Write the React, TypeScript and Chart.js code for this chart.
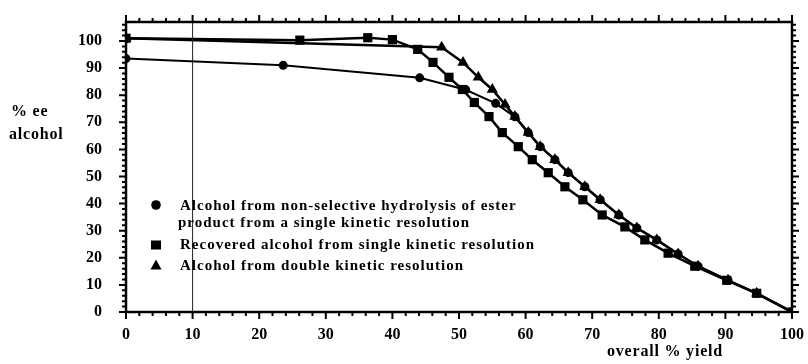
import React, { useEffect, useRef } from "react";
import { Chart, registerables } from "chart.js";

Chart.register(...registerables);

// ---- data ----
const circleX = [0, 23.6, 44.1, 51, 55.5, 58.4, 60.4, 62.2, 64.4, 66.4, 68.9, 71.2, 74.0, 76.7, 79.7, 82.9, 85.9, 90.4, 94.7, 100];
const circleY = [93.5, 91, 86.4, 82, 77, 72, 66.2, 61, 56.2, 51.4, 46.2, 41.4, 35.8, 31, 26.6, 21.4, 16.9, 11.7, 6.9, 0];

const squareX = [0, 26.1, 36.3, 40, 43.8, 46.1, 48.5, 50.5, 52.3, 54.5, 56.5, 58.9, 61.0, 63.4, 65.9, 68.6, 71.5, 74.9, 77.9, 81.4, 85.4, 90.2, 94.7, 100];
const squareY = [101, 100.3, 101.2, 100.5, 96.9, 92.1, 86.6, 82.1, 77.3, 72.1, 66.2, 61.0, 56.2, 51.4, 46.2, 41.4, 35.8, 31.4, 26.6, 21.7, 16.9, 11.7, 6.9, 0];

const triangleX = [0, 47.4, 50.6, 52.9, 55.0, 56.9, 58.4, 60.4, 62.2, 64.4, 66.4, 68.9, 71.2, 74.0, 76.7, 79.7, 82.9, 85.9, 90.4, 94.7, 100];
const triangleY = [101, 97.7, 92.1, 86.6, 82.1, 76.6, 72.1, 66.2, 61.0, 56.2, 51.4, 46.2, 41.4, 35.8, 31.0, 26.6, 21.4, 16.9, 11.7, 6.9, 0];

const refLineX = [10, 10];
const refLineY = [0, 107];

const xTicks = [0, 10, 20, 30, 40, 50, 60, 70, 80, 90, 100];
const yTicks = [0, 10, 20, 30, 40, 50, 60, 70, 80, 90, 100];

const seriesLabels = [
  ["Alcohol from non-selective hydrolysis of ester", "product from a single kinetic resolution"],
  ["Recovered alcohol from single kinetic resolution"],
  ["Alcohol from double kinetic resolution"],
];
const yTitle = ["% ee", "alcohol"];
const xTitle = "overall % yield";

const X_MIN = 0, X_MAX = 100, Y_MIN = 0, Y_MAX = 107;

const FONT = '"Liberation Serif", "Times New Roman", serif';

function pts(xs: number[], ys: number[]) {
  return xs.map((x, i) => ({ x, y: ys[i] }));
}

const framePlugin = {
  id: "frame",
  afterDraw(chart: any) {
    const { ctx, chartArea: a, scales } = chart;
    const xs = scales.x, ys = scales.y;
    ctx.save();
    ctx.strokeStyle = "#000";
    ctx.fillStyle = "#000";
    // frame
    ctx.lineWidth = 2.5;
    ctx.strokeRect(a.left, a.top, a.right - a.left, a.bottom - a.top);
    // ticks
    ctx.lineWidth = 2;
    for (let v = X_MIN; v <= X_MAX + 1e-6; v += 2) {
      const px = xs.getPixelForValue(v);
      const len = v % 10 === 0 ? 7 : 4;
      ctx.beginPath();
      ctx.moveTo(px, a.bottom);
      ctx.lineTo(px, a.bottom + len);
      ctx.moveTo(px, a.top);
      ctx.lineTo(px, a.top - len);
      ctx.stroke();
    }
    for (let v = Y_MIN; v <= Y_MAX; v += 2) {
      const py = ys.getPixelForValue(v);
      const len = v % 10 === 0 ? 7 : 4;
      ctx.beginPath();
      ctx.moveTo(a.left, py);
      ctx.lineTo(a.left - len, py);
      ctx.moveTo(a.right, py);
      ctx.lineTo(a.right + len, py);
      ctx.stroke();
    }
    // axis titles
    ctx.font = `bold 16px ${FONT}`;
    (ctx as any).letterSpacing = "0.8px";
    ctx.textBaseline = "middle";
    ctx.textAlign = "left";
    ctx.fillText(yTitle[0], 11, 112);
    ctx.fillText(yTitle[1], 9, 135);
    ctx.fillText(xTitle, 607, 352);

    // legend
    (ctx as any).letterSpacing = "1px";
    ctx.font = `bold 15px ${FONT}`;
    const lx = 156;
    const tx = 180;
    ctx.beginPath();
    ctx.arc(lx, 205, 4.8, 0, Math.PI * 2);
    ctx.fill();
    ctx.fillText(seriesLabels[0][0], tx, 206);
    ctx.fillText(seriesLabels[0][1], tx - 2, 223);
    ctx.fillRect(lx - 5, 245 - 4.5, 10, 9);
    ctx.fillText(seriesLabels[1][0], tx, 245);
    ctx.beginPath();
    ctx.moveTo(lx, 259.5);
    ctx.lineTo(lx + 5.5, 269.5);
    ctx.lineTo(lx - 5.5, 269.5);
    ctx.closePath();
    ctx.fill();
    ctx.fillText(seriesLabels[2][0], tx, 266);
    ctx.restore();
  },
};

export default function App() {
  const ref = useRef<HTMLCanvasElement | null>(null);
  useEffect(() => {
    if (!ref.current) return;
    const chart = new Chart(ref.current, {
      type: "scatter",
      data: {
        datasets: [
          {
            label: "ref",
            data: pts(refLineX, refLineY),
            showLine: true,
            borderColor: "#222",
            borderWidth: 1,
            pointRadius: 0,
          },
          {
            label: seriesLabels[0].join(" "),
            data: pts(circleX, circleY),
            showLine: true,
            borderColor: "#000",
            backgroundColor: "#000",
            borderWidth: 2,
            pointStyle: "circle",
            pointRadius: 4.5,
            pointBorderWidth: 0,
          },
          {
            label: seriesLabels[1][0],
            data: pts(squareX, squareY),
            showLine: true,
            borderColor: "#000",
            backgroundColor: "#000",
            borderWidth: 2.5,
            pointStyle: "rect",
            pointRadius: 6.5,
            pointBorderWidth: 0,
          },
          {
            label: seriesLabels[2][0],
            data: pts(triangleX, triangleY),
            showLine: true,
            borderColor: "#000",
            backgroundColor: "#000",
            borderWidth: 2.5,
            pointStyle: "triangle",
            pointRadius: 6.5,
            pointBorderWidth: 0,
          },
        ],
      },
      options: {
        animation: false,
        responsive: false,
        maintainAspectRatio: false,
        layout: { padding: { left: 0, right: 16, top: 22, bottom: 0 } },
        plugins: { legend: { display: false }, tooltip: { enabled: false } },
        scales: {
          x: {
            type: "linear",
            min: X_MIN,
            max: X_MAX,
            grid: { display: false, drawTicks: false },
            border: { display: false },
            afterBuildTicks: (s: any) => { s.ticks = xTicks.map((v) => ({ value: v })); },
            afterFit: (s: any) => {
              s.height = 52;
              s.paddingLeft = 0;
              s.paddingRight = 0;
            },
            ticks: {
              color: "#000",
              padding: 13,
              maxRotation: 0,
              font: { family: FONT, size: 16, weight: "bold" },
            },
          },
          y: {
            type: "linear",
            min: Y_MIN,
            max: Y_MAX,
            grid: { display: false, drawTicks: false },
            border: { display: false },
            afterBuildTicks: (s: any) => { s.ticks = yTicks.map((v) => ({ value: v })); },
            afterFit: (s: any) => {
              s.width = 126;
              s.paddingTop = 0;
              s.paddingBottom = 0;
            },
            ticks: {
              color: "#000",
              padding: 24,
              font: { family: FONT, size: 16, weight: "bold" },
            },
          },
        },
      },
      plugins: [framePlugin],
    });
    return () => chart.destroy();
  }, []);
  return (
    <div style={{ position: "absolute", left: 0, top: 0, width: 808, height: 364, background: "#fff" }}>
      <canvas ref={ref} width={808} height={364} style={{ width: 808, height: 364, display: "block" }} />
    </div>
  );
}
